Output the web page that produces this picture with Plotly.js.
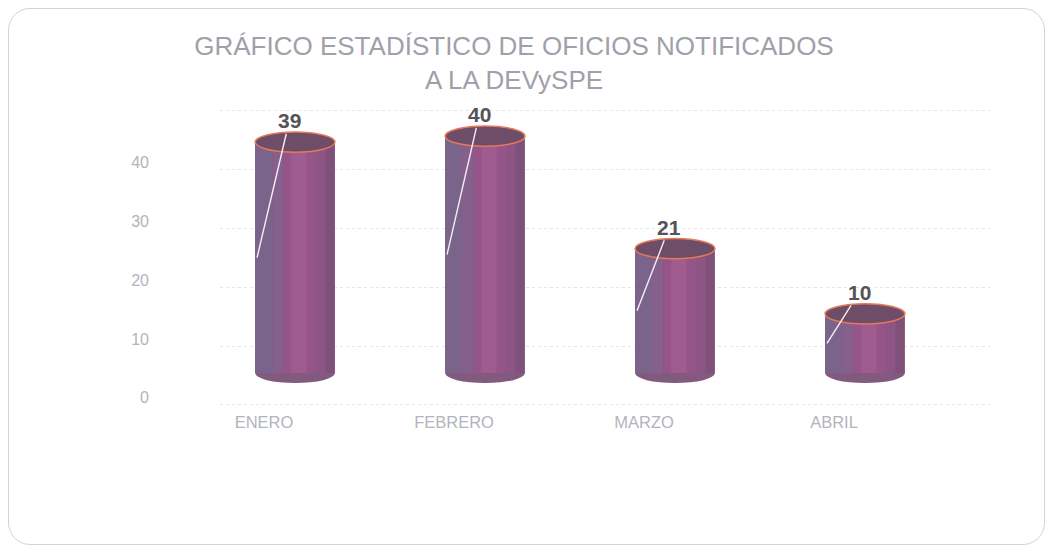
<!DOCTYPE html>
<html>
<head>
<meta charset="utf-8">
<script src="https://cdn.plot.ly/plotly-3.0.1.min.js"></script>
<style>
  html, body { margin: 0; padding: 0; background: #ffffff; }
  #wrap { position: relative; width: 1052px; height: 550px; }
  #chart { position: absolute; left: 0; top: 0; width: 1052px; height: 550px; }
  #frame { position: absolute; left: 8px; top: 8px; width: 1035px; height: 535px;
           border: 1px solid #d2d2da; border-radius: 22px; pointer-events: none; }
</style>
</head>
<body>
<div id="wrap">
  <div id="chart"></div>
  <div id="frame"></div>
</div>
<script>
// ---- data ----
const categories = ['ENERO', 'FEBRERO', 'MARZO', 'ABRIL'];
const values = [39, 40, 21, 10];
const axisTickValues = [0, 10, 20, 30, 40, 50];
const axisTickLabels = ['0', '10', '20', '30', '40', ''];
const chartTitle = 'GRÁFICO ESTADÍSTICO DE OFICIOS NOTIFICADOS<br>A LA DEVySPE';

// ---- style ----
const BAR_W = 0.42;
const RIM_H = 1.7;          // half height of the cylinder ellipse, in bar-axis units
const topFill = '#6d4d67';
const rimColor = '#e7785a';
const bottomColor = '#82597f';
const labelFont = "'Liberation Sans Narrow', 'Liberation Sans', Arial, sans-serif";
const mainFont = "'Liberation Sans', Arial, sans-serif";

// shading bands across the cylinder: [offset from centre, width, colour]
const bands = [
  [-0.21, 0.42, '#7f5079'],
  [-0.21, 0.09, '#7a648c'],
  [-0.12, 0.06, '#86608c'],
  [-0.06, 0.17, '#965588'],
  [-0.02, 0.08, '#a15c8f'],
  [0.11, 0.05, '#8d5584']
];

const idx = categories.map((c, i) => i);

const traces = [{ type: 'scatter', x: [], y: [], xaxis: 'x', yaxis: 'y2', hoverinfo: 'skip' }];
bands.forEach((b) => {
  traces.push({ type: 'bar', x: idx, y: values, width: b[1], offset: b[0],
    marker: { color: b[2], line: { width: 0 } }, hoverinfo: 'skip', yaxis: 'y', xaxis: 'x' });
});

const shapes = [];
idx.forEach((i) => {
  shapes.push({ type: 'circle', xref: 'x', yref: 'y', layer: 'below',
    x0: i - BAR_W / 2, x1: i + BAR_W / 2, y0: -RIM_H, y1: RIM_H,
    fillcolor: bottomColor, line: { width: 0 } });
  shapes.push({ type: 'circle', xref: 'x', yref: 'y', layer: 'above',
    x0: i - BAR_W / 2, x1: i + BAR_W / 2, y0: values[i] - RIM_H, y1: values[i] + RIM_H,
    fillcolor: topFill, line: { color: rimColor, width: 1.5 } });
});

const annotations = idx.map((i) => ({
  xref: 'x', yref: 'y', x: i - 0.2, y: values[i] / 2,
  axref: 'x', ayref: 'y', ax: i - 0.03, ay: values[i] + 3.6,
  text: '<b>' + values[i] + '</b>', showarrow: true, arrowhead: 0, arrowwidth: 1.4,
  arrowcolor: '#f4eef6', standoff: 0, startstandoff: 0,
  font: { family: labelFont, size: 21, color: '#545458' }
}));

const layout = {
  width: 1052, height: 550,
  margin: { l: 220, r: 62, t: 100, b: 144 },
  paper_bgcolor: '#ffffff', plot_bgcolor: 'rgba(0,0,0,0)',
  showlegend: false, barmode: 'overlay',
  title: { text: chartTitle, x: 514 / 1052, xanchor: 'center', xref: 'container',
           y: 1 - 55 / 550, yanchor: 'top', yref: 'container',
           font: { family: mainFont, size: 26, color: '#a0a0aa' } },
  xaxis: { type: 'linear', range: [-0.395, 3.658], tickmode: 'array', tickvals: idx, ticktext: categories,
           showgrid: false, zeroline: false, showline: false, ticks: '',
           ticklabelshift: -31, ticklabelstandoff: 4,
           tickfont: { family: mainFont, size: 16.5, color: '#b3b3bd' } },
  yaxis: { range: [-5.57, 46.11], visible: false, showgrid: false, zeroline: false },
  yaxis2: { overlaying: 'y', side: 'left', range: [-0.2, 51.86], tickmode: 'array',
            tickvals: axisTickValues, ticktext: axisTickLabels,
            showgrid: true, gridcolor: '#e4e4ea', griddash: 'dot', gridwidth: 1,
            zeroline: false, showline: false, ticks: '',
            ticklabelshift: -7, ticklabelstandoff: 70,
            tickfont: { family: mainFont, size: 16, color: '#b3b3bd' } },
  shapes: shapes,
  annotations: annotations
};

Plotly.newPlot('chart', traces, layout, { displayModeBar: false, staticPlot: true });
</script>
</body>
</html>
